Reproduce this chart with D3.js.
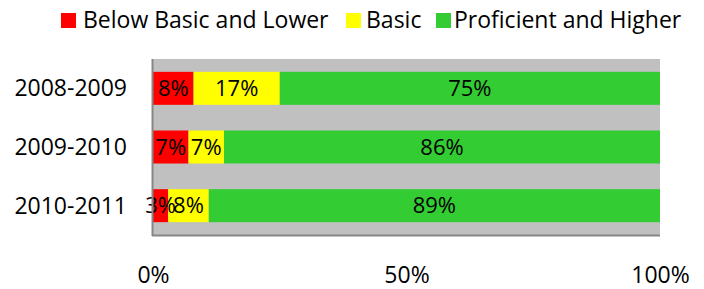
<!DOCTYPE html>
<html>
<head>
<meta charset="utf-8">
<script src="https://cdn.jsdelivr.net/npm/d3@7"></script>
<style>
  body { margin: 0; background: #fff; }
  text { font-family: "Open Sans", "Noto Sans", sans-serif; fill: #000; }
</style>
</head>
<body>
<div id="chart"></div>
<script>
// data
const years = ["2008-2009", "2009-2010", "2010-2011"];
const belowBasic = [8, 7, 3];
const basic = [17, 7, 8];
const proficient = [75, 86, 89];
const seriesNames = ["Below Basic and Lower", "Basic", "Proficient and Higher"];
const seriesColors = ["#ff0000", "#ffff00", "#33cc33"];
const xTicks = [0, 50, 100];

const width = 704, height = 289;
const margin = {top: 59, right: 44, bottom: 54, left: 153};
const plotW = width - margin.left - margin.right;
const plotH = height - margin.top - margin.bottom;

let svg = d3.select("#chart")
    .append("svg")
    .attr("width", width)
    .attr("height", height);

let g = svg.append("g")
    .attr("transform", `translate(${margin.left}, ${margin.top})`);

let x = d3.scaleLinear()
    .domain([0, 100])
    .range([0, plotW]);

let y = d3.scaleBand()
    .domain(years)
    .range([0, plotH])
    .paddingInner(0.4375)
    .paddingOuter(0.21875);

// plot background
g.append("rect")
    .attr("x", 0)
    .attr("y", 0)
    .attr("width", plotW)
    .attr("height", plotH)
    .attr("fill", "#c0c0c0");

// stack the three series
let rows = years.map(function(yr, i) {
    return {year: yr, s0: belowBasic[i], s1: basic[i], s2: proficient[i]};
});
let stack = d3.stack().keys(["s0", "s1", "s2"])(rows);

stack.forEach(function(layer, k) {
    g.append("g").selectAll("rect")
        .data(layer)
        .enter()
        .append("rect")
        .attr("x", function(d) { return x(d[0]); })
        .attr("y", function(d) { return y(d.data.year); })
        .attr("width", function(d) { return x(d[1]) - x(d[0]); })
        .attr("height", y.bandwidth())
        .attr("fill", seriesColors[k]);
});

// value labels
stack.forEach(function(layer) {
    g.append("g").selectAll("text")
        .data(layer)
        .enter()
        .append("text")
        .attr("x", function(d) { return (x(d[0]) + x(d[1])) / 2; })
        .attr("y", function(d) { return y(d.data.year) + y.bandwidth() / 2; })
        .attr("dy", "0.35em")
        .style("text-anchor", "middle")
        .style("font-size", "22px")
        .text(function(d) { return (d[1] - d[0]) + "%"; });
});

// axis lines
g.append("line")
    .attr("x1", -0.5).attr("x2", -0.5)
    .attr("y1", 0).attr("y2", plotH + 1)
    .attr("stroke", "#868686")
    .attr("stroke-width", 2);
g.append("line")
    .attr("x1", -1).attr("x2", plotW)
    .attr("y1", plotH + 0.5).attr("y2", plotH + 0.5)
    .attr("stroke", "#868686")
    .attr("stroke-width", 2);

// category labels
g.append("g").selectAll("text")
    .data(years)
    .enter()
    .append("text")
    .attr("x", -26)
    .attr("y", function(d) { return y(d) + y.bandwidth() / 2; })
    .attr("dy", "0.35em")
    .style("text-anchor", "end")
    .style("font-size", "23px")
    .text(function(d) { return d; });

// x tick labels
let xAxis = d3.axisBottom(x)
    .tickValues(xTicks)
    .tickSize(0)
    .tickPadding(0)
    .tickFormat(function(d) { return d + "%"; });

let xg = g.append("g")
    .attr("transform", `translate(0, ${plotH})`)
    .call(xAxis);
xg.select(".domain").remove();
xg.selectAll("text")
    .attr("y", 48)
    .attr("dy", 0)
    .style("font-size", "23px")
    .style("font-family", "'Open Sans', 'Noto Sans', sans-serif")
    .attr("fill", "#000");

// legend (x positions of each swatch and its text)
const legendSwatchX = [61, 346, 436];
const legendTextX = [83, 366, 454];
let legend = svg.append("g");
seriesNames.forEach(function(name, i) {
    legend.append("rect")
        .attr("x", legendSwatchX[i])
        .attr("y", 13)
        .attr("width", 15)
        .attr("height", 15)
        .attr("fill", seriesColors[i]);
    legend.append("text")
        .attr("x", legendTextX[i])
        .attr("y", 28)
        .style("font-size", "23px")
        .text(name);
});
</script>
</body>
</html>
